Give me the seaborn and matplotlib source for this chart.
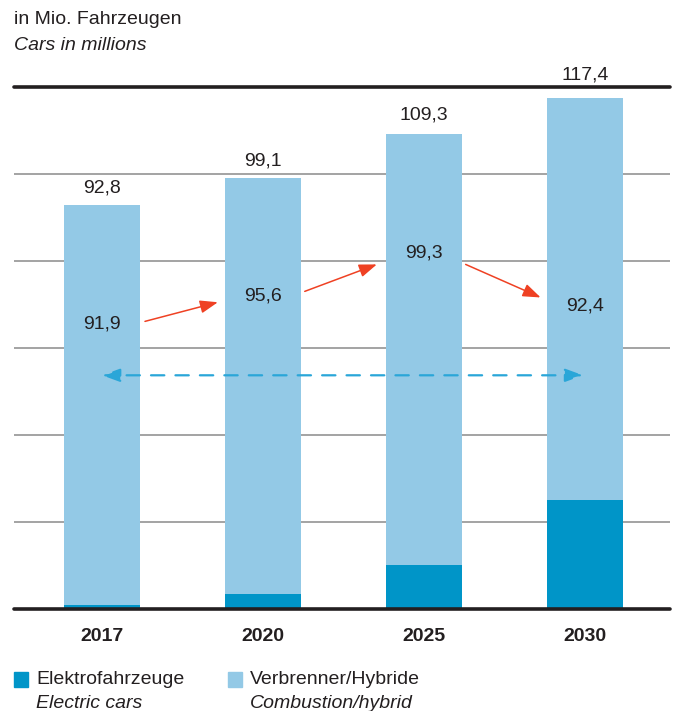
import matplotlib
matplotlib.use("Agg")
import matplotlib.pyplot as plt
from matplotlib.patches import Rectangle
import seaborn as sns
import pandas as pd

# Data (millions of cars)
years = ["2017", "2020", "2025", "2030"]
total = [92.8, 99.1, 109.3, 117.4]
combustion = [91.9, 95.6, 99.3, 92.4]
electric = [round(t - c, 1) for t, c in zip(total, combustion)]

total_labels = ["92,8", "99,1", "109,3", "117,4"]
combustion_labels = ["91,9", "95,6", "99,3", "92,4"]

LIGHT = "#93c9e6"
DARK = "#0095c8"
TEXT = "#231f20"
RED = "#ef4123"
DASH = "#2aa6d8"
FS = 14

sns.set_theme(style="white")
plt.rcParams["font.family"] = ["Liberation Sans", "DejaVu Sans"]

df = pd.DataFrame({"year": years, "total": total, "electric": electric})

W, H = 677, 711
fig = plt.figure(figsize=(W / 100, H / 100), dpi=100)
ax_top, ax_bot = 87.0, 608.8
ax = fig.add_axes([14 / W, 1 - ax_bot / H, 656 / W, (ax_bot - ax_top) / H])

sns.barplot(data=df, x="year", y="total", color=LIGHT, width=0.47,
            saturation=1, linewidth=0, ax=ax, zorder=3)
sns.barplot(data=df, x="year", y="electric", color=DARK, width=0.47,
            saturation=1, linewidth=0, ax=ax, zorder=3)

ax.set_xlim(-0.547, 3.53)
ax.set_ylim(0, 120)

# horizontal grid
for v in [20, 40, 60, 80, 100]:
    ax.axhline(v, color="#a3a3a3", lw=1.4, zorder=1)
ax.axhline(120, color="#231f20", lw=2.6, zorder=4, clip_on=False)
ax.axhline(0, color="#231f20", lw=2.6, zorder=4, clip_on=False)

for s in ax.spines.values():
    s.set_visible(False)
ax.set_yticks([])
ax.set_xlabel("")
ax.set_ylabel("")
ax.tick_params(axis="x", length=0, pad=14)
ax.set_xticks(range(len(years)))
ax.set_xticklabels(years, fontsize=FS, fontweight="bold", color=TEXT)

# totals above bars (last one lifted clear of the top rule)
label_offsets = [12.5, 12.5, 13, 16.5]
for i, (t, lab, off) in enumerate(zip(total, total_labels, label_offsets)):
    ax.annotate(lab, (i, t), xytext=(0, off), textcoords="offset points",
                ha="center", va="center", fontsize=FS, color=TEXT, zorder=5)

# combustion values inside bars
label_y = [65.4, 71.9, 81.8, 69.6]
for i, (lab, y) in enumerate(zip(combustion_labels, label_y)):
    ax.text(i, y, lab, ha="center", va="center", fontsize=FS,
            color=TEXT, zorder=5)

# red trend arrows between the combustion values
red_arrows = [((0.267, 66.1), (0.72, 70.5)),
              ((1.26, 73.0), (1.708, 79.2)),
              ((2.26, 79.2), (2.726, 71.6))]
for start, end in red_arrows:
    ax.annotate("", xy=end, xytext=start,
                arrowprops=dict(arrowstyle="-|>,head_length=0.6,head_width=0.22",
                                color=RED, lw=1.1, mutation_scale=18,
                                shrinkA=0, shrinkB=0),
                zorder=6)

# dashed comparison arrow 2017 <-> 2030
ax.annotate("", xy=(0.0, 53.7), xytext=(2.99, 53.7),
            arrowprops=dict(arrowstyle="<|-|>,head_length=0.6,head_width=0.22",
                            color=DASH, lw=1.6, linestyle=(0, (6, 5)),
                            mutation_scale=18, shrinkA=0, shrinkB=0),
            zorder=6)

# unit header
fig.text(14 / W, 1 - 19 / H, "in Mio. Fahrzeugen", fontsize=FS,
         color=TEXT, va="center", ha="left")
fig.text(14 / W, 1 - 45 / H, "Cars in millions", fontsize=FS,
         color=TEXT, va="center", ha="left", style="italic")

# legend
legend_items = [(DARK, "Elektrofahrzeuge", "Electric cars", 14),
                (LIGHT, "Verbrenner/Hybride", "Combustion/hybrid", 228)]
for col, de, en, x0 in legend_items:
    fig.patches.append(Rectangle((x0 / W, 1 - 687 / H), 14 / W, 15 / H,
                                 transform=fig.transFigure, color=col))
    fig.text((x0 + 22) / W, 1 - 680 / H, de, fontsize=FS, color=TEXT,
             va="center", ha="left")
    fig.text((x0 + 22) / W, 1 - 703 / H, en, fontsize=FS, color=TEXT,
             va="center", ha="left", style="italic")

fig.savefig("out.png", dpi=100)
